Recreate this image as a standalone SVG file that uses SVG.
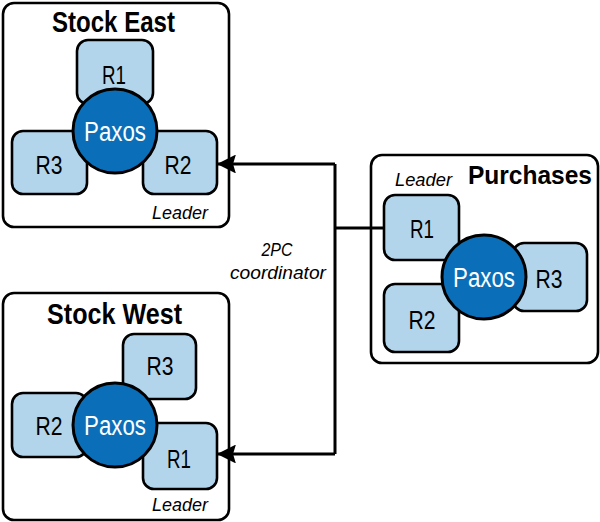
<svg xmlns="http://www.w3.org/2000/svg" width="600" height="522" viewBox="0 0 600 522">
<defs>
<marker id="ah" viewBox="0 0 10 10" refX="10" refY="5" markerWidth="6.3" markerHeight="6.3" markerUnits="strokeWidth" orient="auto">
<path d="M0,0 L10,5 L0,10 L1.5,5 Z" fill="#000"/>
</marker>
<style>
.grp{fill:#fff;stroke:#000;stroke-width:2.6}
.rep{fill:#b3d5ec;stroke:#000;stroke-width:2.6}
.px{fill:#0a6fb8;stroke:#000;stroke-width:3}
.title{font-family:"Liberation Sans",Arial,sans-serif;font-weight:bold;font-size:29px;fill:#000}
.rl{font-family:"Liberation Sans",Arial,sans-serif;font-size:26px;fill:#000;text-anchor:middle}
.pl{font-family:"Liberation Sans",Arial,sans-serif;font-size:27px;fill:#fff;text-anchor:middle}
.it{font-family:"Liberation Sans",Arial,sans-serif;font-style:italic;font-size:18.5px;fill:#000}
.conn{fill:none;stroke:#000;stroke-width:3}
</style>
</defs>
<g id="stock-east">
<rect class="grp" x="3" y="3" width="226" height="224" rx="11"/>
<text class="title" x="52" y="32" textLength="123" lengthAdjust="spacingAndGlyphs">Stock East</text>
<rect class="rep" x="77" y="40" width="76" height="64" rx="11"/>
<rect class="rep" x="12" y="131" width="75" height="63" rx="11"/>
<rect class="rep" x="143" y="131" width="74" height="63" rx="11"/>
<circle class="px" cx="115" cy="131" r="42"/>
<text class="rl" x="114" y="84" textLength="24" lengthAdjust="spacingAndGlyphs">R1</text>
<text class="rl" x="49" y="174" textLength="27" lengthAdjust="spacingAndGlyphs">R3</text>
<text class="rl" x="178" y="174" textLength="27" lengthAdjust="spacingAndGlyphs">R2</text>
<text class="pl" x="115" y="141" textLength="62" lengthAdjust="spacingAndGlyphs">Paxos</text>
<text class="it" x="152" y="219" textLength="56" lengthAdjust="spacingAndGlyphs">Leader</text>
</g>
<g id="stock-west">
<rect class="grp" x="3" y="293" width="226" height="227" rx="11"/>
<text class="title" x="47" y="324" textLength="135" lengthAdjust="spacingAndGlyphs">Stock West</text>
<rect class="rep" x="123" y="334" width="73" height="65" rx="11"/>
<rect class="rep" x="12" y="393" width="75" height="64" rx="11"/>
<rect class="rep" x="143" y="423" width="74" height="66" rx="11"/>
<circle class="px" cx="115" cy="425" r="42"/>
<text class="rl" x="160" y="375" textLength="27" lengthAdjust="spacingAndGlyphs">R3</text>
<text class="rl" x="49" y="435" textLength="27" lengthAdjust="spacingAndGlyphs">R2</text>
<text class="rl" x="179" y="468" textLength="24" lengthAdjust="spacingAndGlyphs">R1</text>
<text class="pl" x="115" y="435" textLength="62" lengthAdjust="spacingAndGlyphs">Paxos</text>
<text class="it" x="152" y="511" textLength="56" lengthAdjust="spacingAndGlyphs">Leader</text>
</g>
<g id="purchases">
<rect class="grp" x="371" y="155" width="227" height="208" rx="11"/>
<text class="title" x="468" y="184" style="font-size:25px" textLength="124" lengthAdjust="spacingAndGlyphs">Purchases</text>
<text class="it" x="395" y="186" textLength="57" lengthAdjust="spacingAndGlyphs">Leader</text>
<rect class="rep" x="384" y="195" width="75" height="65" rx="11"/>
<rect class="rep" x="384" y="284" width="75" height="68" rx="11"/>
<rect class="rep" x="513" y="243" width="74" height="68" rx="11"/>
<circle class="px" cx="484" cy="277" r="42"/>
<text class="rl" x="422" y="238" textLength="24" lengthAdjust="spacingAndGlyphs">R1</text>
<text class="rl" x="422" y="329" textLength="27" lengthAdjust="spacingAndGlyphs">R2</text>
<text class="rl" x="549" y="288" textLength="27" lengthAdjust="spacingAndGlyphs">R3</text>
<text class="pl" x="484" y="287" textLength="62" lengthAdjust="spacingAndGlyphs">Paxos</text>
</g>
<g id="connectors">
<path class="conn" d="M384,228 H335"/>
<path class="conn" d="M335,164 V454"/>
<path class="conn" d="M335,164 H217" marker-end="url(#ah)"/>
<path class="conn" d="M335,454 H217" marker-end="url(#ah)"/>
<text class="it" x="277" y="256" text-anchor="middle" textLength="31" lengthAdjust="spacingAndGlyphs">2PC</text>
<text class="it" x="278" y="279" text-anchor="middle" textLength="96" lengthAdjust="spacingAndGlyphs">coordinator</text>
</g>
</svg>
